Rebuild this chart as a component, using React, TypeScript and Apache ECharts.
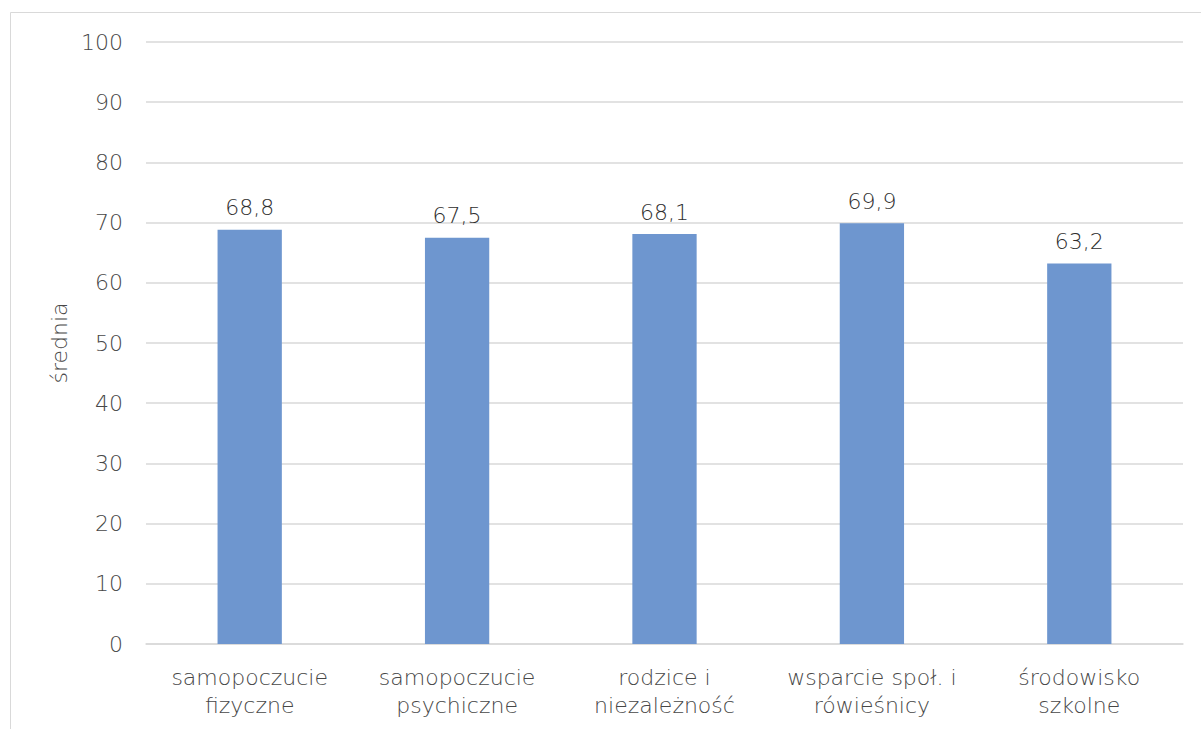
import React, { useEffect, useRef } from "react";
import * as echarts from "echarts";

const categories = [
  "samopoczucie\nfizyczne",
  "samopoczucie\npsychiczne",
  "rodzice i\nniezależność",
  "wsparcie społ. i\nrówieśnicy",
  "środowisko\nszkolne",
];
const values = [68.8, 67.5, 68.1, 69.9, 63.2];
const yAxisName = "średnia";

const FONT = "'DejaVu Sans', sans-serif";
const FS = 22;

export default function App() {
  const ref = useRef<HTMLDivElement>(null);
  useEffect(() => {
    if (!ref.current) return;
    const chart = echarts.init(ref.current, undefined, { renderer: "svg" });
    chart.setOption({
      animation: false,
      textStyle: { fontFamily: FONT },
      graphic: [
        {
          type: "rect",
          shape: { x: 10.5, y: 12.5, width: 1200, height: 740 },
          style: { fill: "none", stroke: "#d9d9d9", lineWidth: 1 },
          silent: true,
        },
      ],
      grid: { left: 146, right: 18, top: 42, bottom: 85 },
      xAxis: {
        type: "category",
        data: categories,
        axisLine: { lineStyle: { color: "#d9d9d9", width: 1.5 } },
        axisTick: { show: false },
        axisLabel: {
          color: "#474747",
          fontSize: FS,
          fontFamily: FONT,
          fontWeight: 200,
          lineHeight: 28,
          margin: 19,
          interval: 0,
        },
      },
      yAxis: {
        type: "value",
        min: 0,
        max: 100,
        interval: 10,
        name: yAxisName,
        nameLocation: "middle",
        nameGap: 73,
        nameRotate: 90,
        nameTextStyle: { color: "#474747", fontSize: FS, fontFamily: FONT, fontWeight: 200 },
        axisLine: { show: false },
        axisTick: { show: false },
        splitLine: { lineStyle: { color: "#d9d9d9", width: 1.5 } },
        axisLabel: { color: "#474747", fontSize: FS, fontFamily: FONT, fontWeight: 200, margin: 23 },
      },
      series: [
        {
          type: "bar",
          data: values,
          barWidth: "31%",
          itemStyle: { color: "#6e96cf" },
          label: {
            show: true,
            position: "top",
            distance: 11,
            color: "#2e2e2e",
            fontSize: FS,
            fontFamily: FONT,
            fontWeight: 200,
            formatter: (p: any) => Number(p.value).toFixed(1).replace(".", ","),
          },
        },
      ],
    });
    return () => chart.dispose();
  }, []);
  return (
    <div
      ref={ref}
      style={{ position: "absolute", left: 0, top: 0, width: 1201, height: 729, background: "#fff" }}
    />
  );
}
